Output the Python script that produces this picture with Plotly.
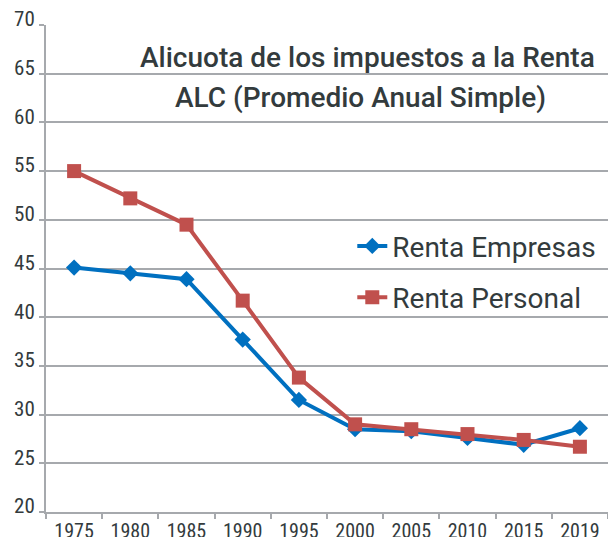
import plotly.graph_objects as go

years = ["1975", "1980", "1985", "1990", "1995", "2000", "2005", "2010", "2015", "2019"]
renta_empresas = [45.1, 44.5, 43.9, 37.7, 31.5, 28.5, 28.3, 27.6, 26.9, 28.6]
renta_personal = [55.0, 52.2, 49.5, 41.7, 33.8, 29.0, 28.5, 28.0, 27.4, 26.7]
title_lines = ["Alicuota de los impuestos a la Renta", "ALC (Promedio Anual Simple)"]

BLUE = "#0070C0"
RED = "#C0504D"
GRID = "#A6A9AD"
TEXT = "#333B3D"
TICKFONT = "Liberation Sans Narrow, Roboto Condensed, Arial Narrow, sans-serif"

fig = go.Figure()
fig.add_trace(go.Scatter(
    x=years, y=renta_empresas, name="Renta Empresas", mode="lines+markers",
    legendgroup="a",
    line=dict(color=BLUE, width=4),
    marker=dict(symbol="diamond", size=12.5, color=BLUE),
))
fig.add_trace(go.Scatter(
    x=years, y=renta_personal, name="Renta Personal", mode="lines+markers",
    legendgroup="b",
    line=dict(color=RED, width=4),
    marker=dict(symbol="square", size=14, color=RED),
))

fig.update_layout(
    width=608, height=537,
    margin=dict(l=46, r=0, t=25, b=25),
    paper_bgcolor="white", plot_bgcolor="white",
    font=dict(family="Roboto, sans-serif", color=TEXT),
    showlegend=True,
    legend=dict(
        x=0.545, y=0.597, xanchor="left", yanchor="top",
        bgcolor="rgba(0,0,0,0)", font=dict(size=28, color=TEXT),
        itemwidth=30, tracegroupgap=12,
    ),
    annotations=[
        dict(text=title_lines[0], x=0.572, y=0.934, xref="paper", yref="paper",
             xanchor="center", yanchor="middle", showarrow=False,
             font=dict(size=28, color=TEXT, weight=500)),
        dict(text=title_lines[1], x=0.559, y=0.852, xref="paper", yref="paper",
             xanchor="center", yanchor="middle", showarrow=False,
             font=dict(size=28, color=TEXT, weight=500)),
    ],
)
fig.update_xaxes(
    type="category", range=[-0.5, 9.5], automargin=False,
    showline=True, linecolor=GRID, linewidth=2,
    ticks="outside", tickson="boundaries", ticklen=5, tickcolor=GRID, tickwidth=2,
    showgrid=False,
    tickfont=dict(size=20, color=TEXT, family=TICKFONT),
)
fig.update_yaxes(
    range=[20, 70], dtick=5, automargin=False,
    showline=True, linecolor=GRID, linewidth=2,
    ticks="outside", ticklen=5, tickcolor=GRID, tickwidth=2,
    showgrid=True, gridcolor=GRID, gridwidth=2,
    zeroline=False, ticklabelshift=-6,
    tickfont=dict(size=21, color=TEXT, family=TICKFONT),
)

# remove the browser's default page margin so the figure fills the window exactly
fig.write_html(
    "out.html",
    config={"displayModeBar": False},
    post_script="document.body.style.margin='0';",
)
